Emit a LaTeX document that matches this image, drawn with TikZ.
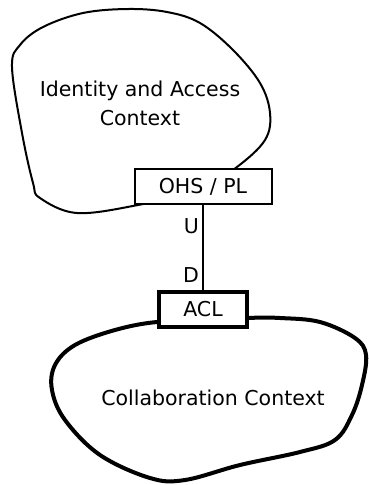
\documentclass[tikz,border=0pt]{standalone}
\usepackage{fontspec}
\setmainfont{DejaVu Sans}
\usetikzlibrary{positioning}

\begin{document}
\begin{tikzpicture}[
            x=1pt, y=-1pt,
            every node/.style={align=center, font=\fontsize{20.5}{29}\selectfont},
            context/.style={draw=none},
            mapbox/.style={draw, fill=white, line width=2pt, minimum width=137pt, minimum height=35pt},
            aclbox/.style={draw, fill=white, line width=4pt, minimum width=88pt, minimum height=35pt},
            lbl/.style={inner sep=3pt}
        ]
        \useasboundingbox (0,0) rectangle (368,485);

        % Contexts
        \draw[line width=2pt, fill=white] plot[smooth cycle, tension=0.6] coordinates {
            (128,9) (167,12) (200,23) (233,50) (260,83) (270,113) (265,140)
            (237,167) (200,190) (138,205) (77,213) (40,198) (33,183) (22,133)
            (12,67) (20,45) (43,27) (83,13)};
        \draw[line width=4pt, fill=white] plot[smooth cycle, tension=0.6] coordinates {
            (157,322) (115,330) (75,345) (55,365) (52,390) (65,420) (100,455)
            (150,478) (185,480) (240,465) (300,452) (335,440) (352,415)
            (362,385) (366,355) (355,338) (320,322) (280,318) (249,318) (203,322)};

        % Nodes
        \node[context] (iam) at (140,103) {Identity and Access\\Context};
        \node[context] (collab) at (213,398) {Collaboration Context};
        \node[mapbox] (ohs) at (203,186.5) {OHS / PL};
        \node[aclbox] (acl) at (203,309.5) {ACL};

        % Relationship
        \draw[line width=2pt] (ohs) -- (acl)
            node[near start, left, lbl] (up) {U}
            node[pos=0.82, left, lbl] (down) {D};
\end{tikzpicture}
\end{document}
